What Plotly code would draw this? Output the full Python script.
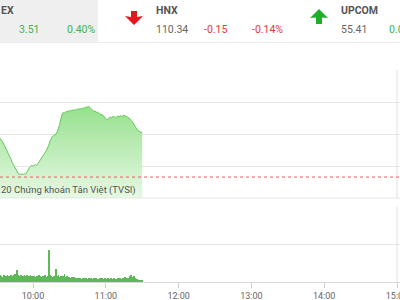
import plotly.graph_objects as go
import pandas as pd

# ---------------- data ----------------
day = "2020-03-05"
start_time = "09:31"
price = [
    877.9, 877.8, 877.75, 877.6, 877.5, 877.35, 877.2, 877.0, 876.85, 876.65,
    876.55, 876.4, 876.2, 876.05, 875.9, 875.75, 875.6, 875.5, 875.48, 875.5,
    875.5, 875.48, 875.52, 875.5, 875.6, 875.75, 875.9, 876.0, 876.05, 875.98,
    876.05, 876.1, 876.02, 876.15, 876.25, 876.38, 876.5, 876.6, 876.72, 876.85,
    876.95, 877.1, 877.3, 877.55, 877.75, 877.85, 877.9, 877.95, 878.0, 878.15,
    878.35, 878.6, 878.95, 879.25, 879.35, 879.3, 879.4, 879.38, 879.45, 879.42,
    879.5, 879.45, 879.52, 879.48, 879.55, 879.5, 879.58, 879.55, 879.6, 879.57,
    879.62, 879.6, 879.65, 879.7, 879.68, 879.72, 879.65, 879.55, 879.5, 879.42,
    879.45, 879.35, 879.38, 879.3, 879.25, 879.2, 879.22, 879.15, 879.05, 878.95,
    878.88, 878.95, 879.05, 879.0, 879.08, 879.05, 879.1, 879.02, 879.1, 879.12,
    879.08, 879.15, 879.1, 879.13, 879.18, 879.12, 879.1, 879.05, 879.0, 878.95,
    878.85, 878.75, 878.6, 878.5, 878.35, 878.25, 878.2, 878.15, 878.1, 878.12,
]
volume = [
    350, 300, 380, 320, 290, 400, 340, 310, 360, 330,
    300, 370, 320, 350, 420, 330, 640, 360, 310, 380,
    340, 300, 360, 320, 390, 330, 300, 350, 310, 280,
    320, 290, 340, 300, 360, 310, 280, 330, 300, 350,
    290, 320, 1700, 380, 300, 260, 340, 290, 700, 310,
    360, 280, 320, 250, 300, 420, 270, 330, 260, 290,
    240, 280, 220, 260, 200, 230, 190, 210, 240, 180,
    200, 170, 220, 190, 160, 210, 180, 230, 170, 190,
    160, 200, 180, 150, 210, 170, 190, 160, 220, 180,
    170, 200, 160, 190, 150, 180, 210, 170, 160, 200,
    180, 210, 170, 230, 190, 260, 200, 240, 220, 300,
    380, 250, 320, 210, 180, 150, 120, 100, 90, 80,
]
ref_close = 875.31
tick_labels = ["10:00", "11:00", "12:00", "13:00", "14:00", "15:00"]

hdr_names = ["EX", "HNX", "UPCOM"]
hdr_values = ["3.51", "110.34", "55.41"]
hdr_changes = ["0.40%", "-0.15", "-0.14%", "0.0"]

times = pd.date_range(f"{day} {start_time}", periods=len(price), freq="min")

W, H = 400, 300
def px(x): return x / W
def py(y): return 1 - y / H

GREEN_T = "#3db54a"
RED_T = "#e53935"

fig = go.Figure()
fig.add_trace(go.Scatter(
    x=times, y=price, mode="lines",
    line=dict(color="#62c95a", width=1),
    fill="tozeroy",
    fillgradient=dict(type="vertical", start=873.5, stop=880,
                      colorscale=[[0, "rgba(235,250,233,0.9)"], [1, "rgba(140,222,130,0.95)"]]),
    xaxis="x", yaxis="y", showlegend=False, hoverinfo="skip"))
fig.add_trace(go.Bar(
    x=times, y=volume, marker=dict(color="#5fb858", line=dict(width=0)),
    width=42000, xaxis="x2", yaxis="y2", showlegend=False, hoverinfo="skip"))

xr = [f"{day} 09:32:48", f"{day} 15:02:28"]
tickvals = [f"{day} {t}" for t in tick_labels]

fig.update_layout(
    width=W, height=H, margin=dict(l=0, r=0, t=0, b=0, autoexpand=False),
    paper_bgcolor="white", plot_bgcolor="white",
    font=dict(family="Roboto", color="#666", size=9),
    bargap=0,
    xaxis=dict(domain=[0, 1], range=xr, type="date", showgrid=False, showticklabels=False,
               zeroline=False, anchor="y", automargin=False),
    yaxis=dict(domain=[py(198), py(70)], range=[874, 882], dtick=2, showticklabels=False,
               gridcolor="#e6e6e6", gridwidth=1, zeroline=False, anchor="x", automargin=False),
    xaxis2=dict(domain=[0, 1], range=xr, type="date", showgrid=False,
                tickvals=tickvals, ticktext=tick_labels, ticks="outside", ticklen=5,
                tickcolor="#d0d0d0", showline=True, linecolor="#d8d8d8",
                ticklabeloverflow="allow", automargin=False,
                tickfont=dict(size=9, color="#666"), anchor="y2"),
    yaxis2=dict(domain=[py(282), py(207)], range=[0, 4000], dtick=2000, showticklabels=False,
                gridcolor="#e6e6e6", zeroline=False, anchor="x2", automargin=False),
)

shapes = []
# header grey panel + bottom line
shapes.append(dict(type="rect", xref="paper", yref="paper", x0=px(-2), x1=px(98), y0=py(42), y1=py(-2),
                   fillcolor="#efefef", line=dict(width=0), layer="below"))
shapes.append(dict(type="line", xref="paper", yref="paper", x0=0, x1=1, y0=py(42.5), y1=py(42.5),
                   line=dict(color="#ececec", width=1)))
# panel frames (right borders)
shapes.append(dict(type="line", xref="x", yref="paper", x0=f"{day} 15:00", x1=f"{day} 15:00",
                   y0=py(198), y1=py(70), line=dict(color="#e2e2e2", width=1)))
shapes.append(dict(type="line", xref="x2", yref="paper", x0=f"{day} 15:00", x1=f"{day} 15:00",
                   y0=py(282), y1=py(207), line=dict(color="#e2e2e2", width=1)))
shapes.append(dict(type="line", xref="paper", yref="paper", x0=0, x1=1, y0=py(198), y1=py(198),
                   line=dict(color="#e6e6e6", width=1)))
# reference close line
shapes.append(dict(type="line", xref="paper", yref="y", x0=0, x1=1, y0=ref_close, y1=ref_close,
                   line=dict(color="#e46060", width=1, dash="dot")))
# arrows
def path(pts):
    return "M " + " L ".join(f"{px(x)},{py(y)}" for x, y in pts) + " Z"
shapes.append(dict(type="path", xref="paper", yref="paper",
                   path=path([(131, 11), (137, 11), (137, 17), (143, 16), (134, 25), (125, 16), (131, 17)]),
                   fillcolor="#e8141b", line=dict(width=0)))
shapes.append(dict(type="path", xref="paper", yref="paper",
                   path=path([(319, 9), (328, 18), (322, 17.5), (322, 24), (316, 24), (316, 17.5), (310, 18)]),
                   fillcolor="#1fae2a", line=dict(width=0)))
fig.update_layout(shapes=shapes)

ann = []
def txt(x, y, s, color, size=10.5, bold=False, anchor="left"):
    ann.append(dict(xref="paper", yref="paper", x=px(x), y=py(y), text=f"<b>{s}</b>" if bold else s,
                    showarrow=False, xanchor=anchor, yanchor="middle",
                    font=dict(family="Roboto", size=size, color=color)))
txt(-1, 11, hdr_names[0], "#555", bold=True)
txt(17, 29, hdr_values[0], GREEN_T)
txt(65, 29, hdr_changes[0], GREEN_T)
txt(154, 11, hdr_names[1], "#555", bold=True)
txt(154, 29, hdr_values[1], "#666")
txt(202, 29, hdr_changes[1], RED_T)
txt(250, 29, hdr_changes[2], RED_T)
txt(339, 11, hdr_names[2], "#555", bold=True)
txt(339, 29, hdr_values[2], "#666")
txt(387, 29, hdr_changes[3], GREEN_T)
txt(-1, 190, "20 Chứng khoán Tân Việt (TVSI)", "#555", size=9.5)
fig.update_layout(annotations=ann)

fig.write_html("out.html")
